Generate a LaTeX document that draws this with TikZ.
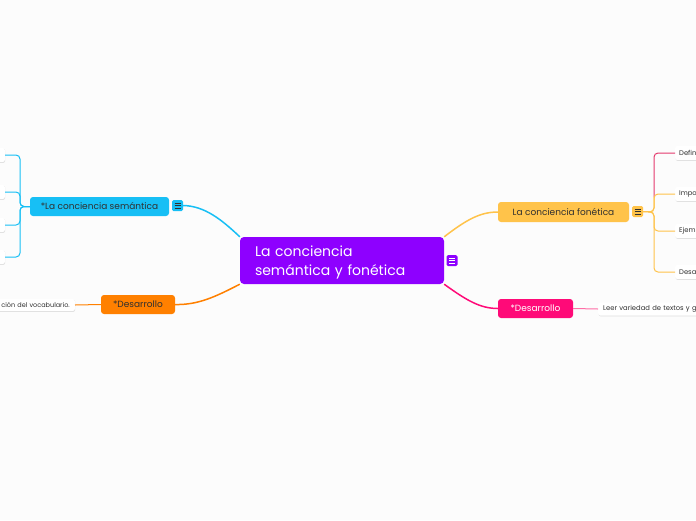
\documentclass[tikz,border=0pt]{standalone}
\usepackage{fontspec}
\setmainfont{Poppins}
\usetikzlibrary{shadows}
\definecolor{bg}{HTML}{FCFCFC}
\definecolor{cpurple}{HTML}{8E00FF}
\definecolor{ccyan}{HTML}{17BFF5}
\definecolor{corange}{HTML}{FF8000}
\definecolor{cyellow}{HTML}{FFC34A}
\definecolor{cpink}{HTML}{FF0A78}
\definecolor{cpinkline}{HTML}{E43A6E}
\definecolor{cpinklight}{HTML}{FF6EA6}
\definecolor{txt}{HTML}{303030}
\tikzset{
  topic/.style={fill=#1, rounded corners=3pt, inner sep=0pt, font=\fontsize{9}{11}\selectfont, text=txt},
  leaf/.style={fill=white, rounded corners=2pt, inner ysep=0pt, minimum height=14pt, font=\fontsize{6.8}{8}\selectfont, text=txt,
    drop shadow={shadow xshift=0.4pt, shadow yshift=-0.8pt, opacity=0.12, fill=black}},
  icon/.style={fill=#1, rounded corners=1.5pt, minimum width=11pt, minimum height=11pt, inner sep=0pt},
  iconlines/.style={path picture={\foreach \dy in {-2.5,0,2.5} \draw[#1, line width=0.8pt] ([xshift=-3pt,yshift=\dy pt]path picture bounding box.center) -- ([xshift=3pt,yshift=\dy pt]path picture bounding box.center);}},
  mainline/.style={draw=#1, line width=1.5pt},
  subline/.style={draw=#1, line width=1pt, rounded corners=4pt},
}
\begin{document}
\begin{tikzpicture}[x=1pt,y=-1pt]
\useasboundingbox (0,0) rectangle (696,520);
\fill[bg] (0,0) rectangle (696,520);

% central
\node[fill=cpurple, rounded corners=4pt, minimum width=204pt, minimum height=47pt, inner xsep=15pt, inner ysep=0pt,
  text width=174pt, align=left, text=white, text height=14.5pt, font=\fontsize{14}{19}\selectfont] (c) at (342,260.5) {La conciencia\\semántica y fonética};
\node[icon=cpurple, iconlines=white] (ic0) at (452,260.5) {};

% left semantic
\node[topic=ccyan, minimum width=139pt, minimum height=19pt] (sem) at (99.5,206.5) {*La conciencia semántica};
\node[icon=ccyan, iconlines=txt] (ic1) at (177.5,205.5) {};
\draw[mainline=ccyan] (ic1.east) .. controls (205,206) and (222,220) .. (c.north west);

\coordinate (sl) at (20,206.5);
\node[leaf, minimum width=30pt, anchor=east] (l1) at (5,155) {};
\node[leaf, minimum width=30pt, anchor=east] (l2) at (5,192) {};
\node[leaf, minimum width=30pt, anchor=east] (l3) at (5,225) {};
\node[leaf, minimum width=30pt, anchor=east] (l4) at (5,257) {};
\foreach \n in {l1,l2,l3,l4}
  \draw[subline=ccyan] (sem.west) -- (sl) |- (\n.east);

% left desarrollo
\node[topic=corange, minimum width=74pt, minimum height=19pt] (dl) at (138,304.5) {*Desarrollo};
\draw[mainline=corange] (c.south west) .. controls (215,297) and (198,305) .. (dl.east);
\node[leaf, anchor=east, text width=80pt, align=right, inner xsep=5pt, minimum height=12pt, font=\fontsize{6.5}{8}\selectfont] (dll) at (75,305) {ción del vocabulario.};
\draw[draw=corange, line width=1pt] (dl.west) -- (dll.east);

% right fonetica
\node[topic=cyellow, minimum width=131pt, minimum height=20pt] (fon) at (563.5,212) {La conciencia fonética};
\node[icon=cyellow, iconlines=txt] (ic2) at (637.5,211.5) {};
\draw[mainline=cyellow] (c.north east) .. controls (466,220) and (480,212) .. (fon.west);

\coordinate (sr) at (654,212);
\node[leaf, anchor=west, text width=34pt, align=left, inner xsep=4pt] (r1) at (675,153) {Defin};
\node[leaf, anchor=west, text width=34pt, align=left, inner xsep=4pt] (r2) at (675,194) {Impo};
\node[leaf, anchor=west, text width=34pt, align=left, inner xsep=4pt] (r3) at (675,231) {Ejem};
\node[leaf, anchor=west, text width=34pt, align=left, inner xsep=4pt] (r4) at (675,272) {Desa};
\coordinate (sr1) at (654,197);
\draw[subline=cyellow] (ic2.east) -- (sr) -- (sr1);
\draw[subline=cpinkline] (sr1) |- (r1.west);
\foreach \n in {r2,r3,r4}
  \draw[subline=cyellow] (ic2.east) -- (sr) |- (\n.west);

% right desarrollo
\node[topic=cpink, minimum width=75pt, minimum height=19pt, text=white] (dr) at (535.5,308.5) {*Desarrollo};
\draw[mainline=cpink] (c.south east) .. controls (466,300) and (480,308.5) .. (dr.west);
\node[leaf, anchor=west, text width=110pt, align=left, inner xsep=5pt, minimum height=13pt] (drl) at (598,309) {Leer variedad de textos y g};
\draw[draw=cpinklight, line width=1pt] (dr.east) -- (drl.west);
\end{tikzpicture}
\end{document}
